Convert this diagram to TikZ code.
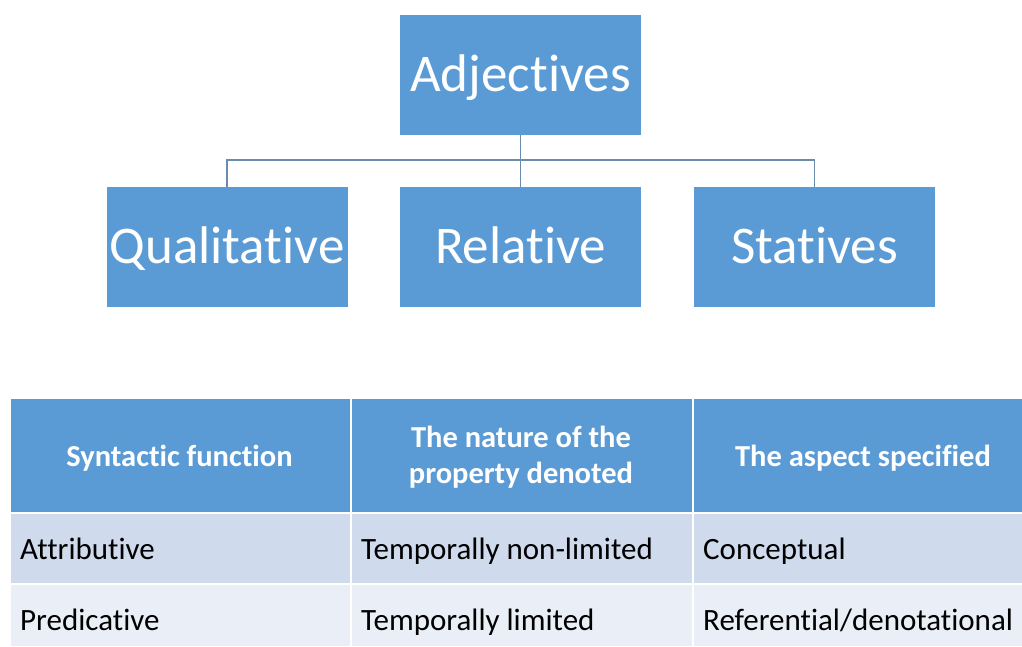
\documentclass[tikz,border=0pt]{standalone}
\usepackage{fontspec}
\setmainfont[Ligatures=NoCommon]{Carlito}
\definecolor{boxblue}{HTML}{5B9BD5}
\definecolor{rowa}{HTML}{CFDAEC}
\definecolor{rowb}{HTML}{E9EEF7}
\definecolor{conn}{HTML}{6A8DAF}
\begin{document}
\begin{tikzpicture}[x=1pt,y=-1pt,
  box/.style={fill=boxblue, minimum width=241pt, minimum height=120pt, inner sep=0pt},
  boxtxt/.style={anchor=base, inner sep=0pt, text=white, font=\fontsize{53}{60}\selectfont},
  link/.style={draw=conn, line width=1.5pt},
  cell/.style={anchor=north west, draw=white, line width=2pt, inner sep=0pt},
  head/.style={cell, fill=boxblue, minimum height=115pt},
  headtxt/.style={anchor=base, inner sep=0pt, text=white, font=\fontsize{30.5}{35}\selectfont\bfseries},
  bodya/.style={cell, fill=rowa, minimum height=71pt},
  bodyb/.style={cell, fill=rowb, minimum height=63pt},
  txt/.style={anchor=base west, inner sep=0pt, text=black, font=\fontsize{31}{36}\selectfont}]
\useasboundingbox (0,0) rectangle (1022,646);

% hierarchy
\node[box] (adj) at (520.5,74.5) {};
\node[box] (qual) at (227,247) {};
\node[box] (rel) at (520.5,247) {};
\node[box] (stat) at (814.5,247) {};
\node[boxtxt] (adjt) at (520.5,91) {Adjectives};
\node[boxtxt] (qualt) at (227,263) {Qualitative};
\node[boxtxt] (relt) at (520.5,263) {Relative};
\node[boxtxt] (statt) at (814.5,263) {Statives};
\coordinate (hub) at (520.5,160);
\draw[link] (adj.south) -- (rel.north);
\draw[link] (qual.north) |- (hub) -| (stat.north);

% table header
\node[head, minimum width=341pt] (h1) at (9,397) {};
\node[head, minimum width=342pt] (h2) at (350,397) {};
\node[head, minimum width=342pt] (h3) at (692,397) {};
\node[headtxt] (h1t) at (179.5,466) {Syntactic function};
\node[headtxt] (h2t) at (521,447) {The nature of the};
\node[headtxt] (h2u) at (521,483) {property denoted};
\node[headtxt] (h3t) at (863,466) {The aspect specified};
% row 1
\node[bodya, minimum width=341pt] (a1) at (9,512) {};
\node[bodya, minimum width=342pt] (a2) at (350,512) {};
\node[bodya, minimum width=342pt] (a3) at (692,512) {};
\node[txt] (ta1) at (20,559) {Attributive};
\node[txt] (ta2) at (361,559) {Temporally non-limited};
\node[txt] (ta3) at (703,559) {Conceptual};
% row 2
\node[bodyb, minimum width=341pt] (b1) at (9,583) {};
\node[bodyb, minimum width=342pt] (b2) at (350,583) {};
\node[bodyb, minimum width=342pt] (b3) at (692,583) {};
\node[txt] (tb1) at (20,630) {Predicative};
\node[txt] (tb2) at (361,630) {Temporally limited};
\node[txt] (tb3) at (703,630) {Referential/denotational};
\end{tikzpicture}
\end{document}
